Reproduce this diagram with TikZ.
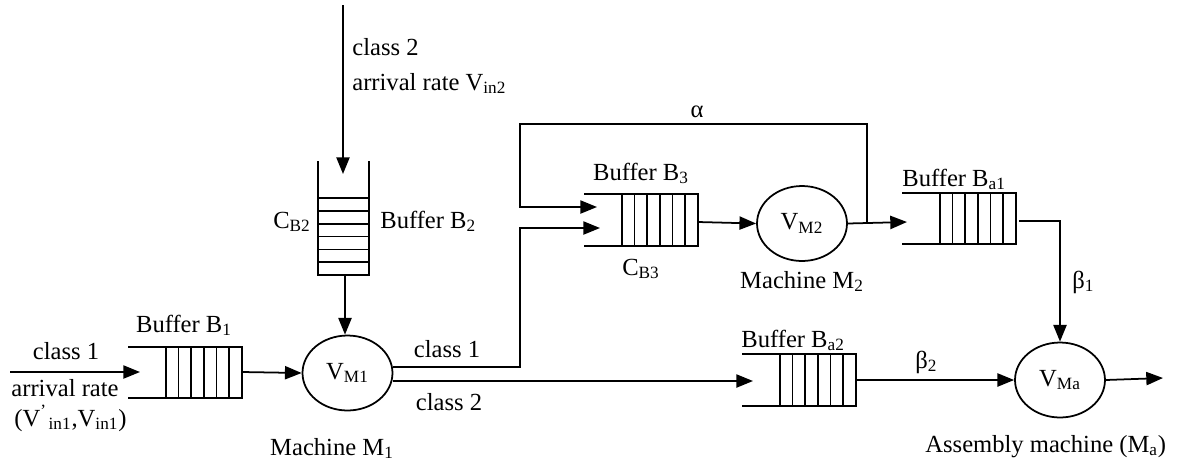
\documentclass[tikz,border=0pt]{standalone}
\usepackage{fontspec}
\setmainfont{Liberation Serif}
\usepackage{tikz}
\usetikzlibrary{arrows.meta, shapes.geometric}

\begin{document}
\begin{tikzpicture}[
    x=0.02cm, y=-0.02cm,
    font=\fontsize{14}{17}\selectfont,
    machine/.style={ellipse, draw, line width=1pt, minimum width=1.8cm, minimum height=1.5cm, inner sep=0pt},
    buf/.style={line width=1pt},
    arrow/.style={-{Triangle[length=9.5pt, width=7.5pt]}, line width=1pt},
    lbl/.style={inner sep=0pt}
]
\useasboundingbox (0,0) rectangle (1188,468);

% Machines
\node[machine] (m1) at (347.5,373) {V\textsubscript{M1}};
\node[machine] (m2) at (802,223.5) {V\textsubscript{M2}};
\node[machine] (ma) at (1060,380) {V\textsubscript{Ma}};

% Horizontal buffers (open on the left)
\foreach \nm/\r/\t/\b in {b1/242/347/398, b3/698/194/246, ba1/1016/193/244, ba2/856/354/406} {
    \draw[buf] (\r-114,\t) -- (\r,\t) -- (\r,\b) -- (\r-114,\b);
    \foreach \i in {1,...,6}
        \draw[buf] (\r-\i*12.7,\t) -- (\r-\i*12.7,\b);
}

% Vertical buffer B2 (open on top)
\draw[buf] (318,161) -- (318,275) -- (369,275) -- (369,161);
\foreach \i in {1,...,6}
    \draw[buf] (318,275-\i*12.8) -- (369,275-\i*12.8);

% Connector end points
\coordinate (in2) at (343,5);
\coordinate (b2in) at (343,174);
\coordinate (b2out) at (345,275);
\coordinate (in1) at (10,372);
\coordinate (b1in) at (140,372);
\coordinate (b1out) at (242,372);
\coordinate (c1) at (520,367);
\coordinate (b3in1) at (597,207);
\coordinate (b3in2) at (600,228);
\coordinate (b3out) at (698,222);
\coordinate (fb) at (867,222);
\coordinate (fbtop) at (520,124);
\coordinate (ba1in) at (907,222);
\coordinate (ba1out) at (1019,221);
\coordinate (ba2in) at (753,381);
\coordinate (ba2out) at (856,380);
\coordinate (out) at (1163,378);

% Flows
\draw[arrow] (in2) -- (b2in);
\draw[arrow] (b2out) -- (b2out |- m1.north);
\draw[arrow] (in1) -- (b1in);
\draw[arrow] (b1out) -- (m1.west);
\draw[arrow] (m1.east |- c1) -- (c1) |- (b3in2);
\draw[arrow] (m1.east |- ba2in) -- (ba2in);
\draw[arrow] (b3out) -- (m2.west);
\draw[arrow] (m2.east) -- (ba1in);
\draw[arrow] (fb) |- (fbtop) |- (b3in1);
\draw[arrow] (ba1out) -| (ma.north);
\draw[arrow] (ba2out) -- (ma.west);
\draw[arrow] (ma.east) -- (out);

% Labels
\node[lbl, anchor=base west] (cls2top) at (352,55) {class 2};
\node[lbl, anchor=base west] (rate2) at (352,90) {arrival rate V\textsubscript{in2}};
\node[lbl, anchor=base east] (cb2) at (311,228) {C\textsubscript{B2}};
\node[lbl, anchor=base west] (lb2) at (380,228) {Buffer B\textsubscript{2}};
\node[lbl, anchor=base] (cls1in) at (66,359) {class 1};
\node[lbl, anchor=base] (rate1) at (65,396) {arrival rate};
\node[lbl, anchor=base west] (rate1v) at (14,426) {(V\textsuperscript{’}\kern1pt\textsubscript{in1},V\textsubscript{in1})};
\node[lbl, anchor=base] (lb1) at (184,332) {Buffer B\textsubscript{1}};
\node[lbl, anchor=base] (lm1) at (332,455) {Machine M\textsubscript{1}};
\node[lbl, anchor=base] (cls1) at (447,357) {class 1};
\node[lbl, anchor=base] (cls2) at (449,410) {class 2};
\node[lbl, anchor=base] (alpha) at (697,117) {α};
\node[lbl, anchor=base] (lb3) at (641,180) {Buffer B\textsubscript{3}};
\node[lbl, anchor=base] (cb3) at (641,275) {C\textsubscript{B3}};
\node[lbl, anchor=base] (lm2) at (802,288) {Machine M\textsubscript{2}};
\node[lbl, anchor=base west] (lba1) at (902,186) {Buffer B\textsubscript{a1}};
\node[lbl, anchor=base west] (beta1) at (1072,288) {β\textsubscript{1}};
\node[lbl, anchor=base west] (beta2) at (915,368) {β\textsubscript{2}};
\node[lbl, anchor=base west] (lba2) at (741,347) {Buffer B\textsubscript{a2}};
\node[lbl, anchor=base west] (lma) at (925,452) {Assembly machine (M\textsubscript{a})};

\end{tikzpicture}
\end{document}
